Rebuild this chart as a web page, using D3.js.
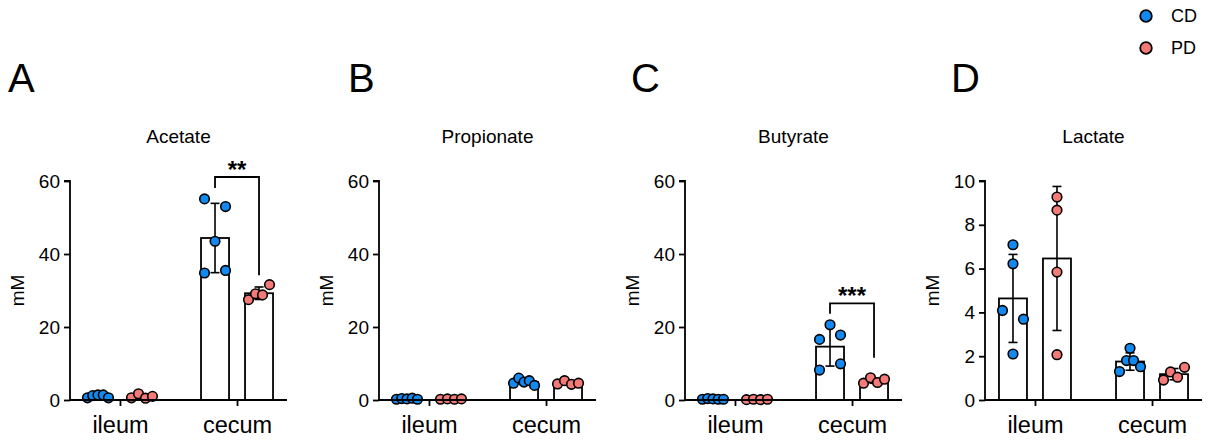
<!DOCTYPE html>
<html><head><meta charset="utf-8">
<script src="https://cdn.jsdelivr.net/npm/d3@7"></script>
<style>
body{margin:0;background:#fff}
svg{display:block}
text{font-family:"Liberation Sans",Arial,Helvetica,sans-serif;fill:#000}
</style>
</head><body>
<svg id="chart" width="1208" height="444"></svg>
<script>
// ---------- data ----------
const panelLetters = ["A","B","C","D"];
const panelTitles = ["Acetate","Propionate","Butyrate","Lactate"];
const categories = ["ileum","cecum"];
const groups = ["CD","PD"];
const yMaxima = [60,60,60,10];
const yTickValues = [[0,20,40,60],[0,20,40,60],[0,20,40,60],[0,2,4,6,8,10]];
const yLabel = "mM";

// per panel: [ileum CD, ileum PD, cecum CD, cecum PD]
const acetate    = [[0.6,1.2,1.4,1.4,0.6],[0.6,1.7,0.5,1.0],[55.1,53.0,43.5,34.8,35.5],[27.5,29.1,28.8,31.6]];
const propionate = [[0.2,0.4,0.3,0.5,0.2],[0.2,0.3,0.2,0.3],[4.6,6.0,4.9,5.3,4.0],[4.4,5.3,4.3,4.6]];
const butyrate   = [[0.2,0.4,0.3,0.2,0.2],[0.1,0.2,0.1,0.2],[16.6,20.6,17.8,8.2,9.9],[4.6,6.1,4.8,5.7]];
const lactate    = [[7.09,6.22,4.09,3.69,2.10],[9.27,8.67,5.84,2.07],[1.30,1.80,2.36,1.80,1.52],[0.91,1.28,1.04,1.49]];
const panelData = [acetate, propionate, butyrate, lactate];

// significance annotations (values in data units)
const sigPanels = [0, 2];
const sigLabels = ["**", "***"];
const sigCategory = ["cecum", "cecum"];
const sigBracketValue = [61.1, 26.5];
const sigLeftEnd = [58.1, 23.6];
const sigRightEnd = [34.2, 11.6];

const groupColors = {CD:"#1289ef", PD:"#f37a76"};

// ---------- layout ----------
const axisLefts = [70, 379, 685, 985];
const letterX = [8, 348, 631, 951];
const axisWidth = 217;
const yBottom = 400, yTop = 181;
const R = 4.8;

const svg = d3.select("#chart");

// symmetric cluster jitter in pixel space (order within a cluster follows data order)
function jitter(vals, y){
  const idx = vals.map((v,i)=>i).sort((a,b)=>vals[a]-vals[b]);
  const offs = new Array(vals.length).fill(0);
  let cluster = [idx[0]];
  const flush = c => {
    const n = c.length;
    if (n === 1) { offs[c[0]] = 0; return; }
    const span = 21;
    c.slice().sort((a,b)=>a-b).forEach((k,i)=>{ offs[k] = -span/2 + span*i/(n-1); });
  };
  for (let i=1;i<idx.length;i++){
    const prev = idx[i-1], cur = idx[i];
    if (Math.abs(y(vals[cur]) - y(vals[prev])) < 11) cluster.push(cur);
    else { flush(cluster); cluster = [cur]; }
  }
  flush(cluster);
  return offs;
}

panelData.forEach((data, p) => {
  const left = axisLefts[p];
  const g = svg.append("g");
  const y = d3.scaleLinear().domain([0, yMaxima[p]]).range([yBottom, yTop]);
  const x = d3.scalePoint().domain(categories).range([left, left + axisWidth]).padding(0.427);
  const xg = d3.scaleBand().domain(groups).range([-36, 36]).paddingInner(4/11);

  g.append("text").attr("x", letterX[p]).attr("y", 92).attr("font-size", 40).text(panelLetters[p]);
  g.append("text").attr("x", left + axisWidth/2).attr("y", 143).attr("text-anchor","middle")
    .attr("font-size", 19).text(panelTitles[p]);

  categories.forEach((cat, ci) => {
    groups.forEach((grp, gi) => {
      const vals = data[ci*2 + gi];
      const cx = x(cat) + xg(grp) + xg.bandwidth()/2;
      const m = d3.mean(vals), s = d3.deviation(vals);
      const bw = xg.bandwidth();
      g.append("rect").attr("x", cx - bw/2).attr("y", y(m)).attr("width", bw)
        .attr("height", yBottom - y(m)).attr("fill","#fff").attr("stroke","#000").attr("stroke-width",1.8);
      const eb = g.append("g").attr("stroke","#000").attr("stroke-width",1.6);
      eb.append("line").attr("x1",cx).attr("x2",cx).attr("y1",y(Math.max(0,m-s))).attr("y2",y(m+s));
      eb.append("line").attr("x1",cx-4.5).attr("x2",cx+4.5).attr("y1",y(m+s)).attr("y2",y(m+s));
      if (m - s > 0) eb.append("line").attr("x1",cx-4.5).attr("x2",cx+4.5).attr("y1",y(m-s)).attr("y2",y(m-s));
      const offs = jitter(vals, y);
      g.selectAll(null).data(vals).enter().append("circle")
        .attr("cx",(d,i)=>cx + offs[i]).attr("cy",d=>y(d)).attr("r",R)
        .attr("fill",groupColors[grp]).attr("stroke","#000").attr("stroke-width",1.6);
    });
  });

  const ya = d3.axisLeft(y).tickValues(yTickValues[p]).tickSize(6).tickPadding(4).tickFormat(d3.format("d"));
  const yAxisG = g.append("g").attr("transform",`translate(${left},0)`).call(ya);
  yAxisG.select(".domain").attr("stroke-width",1.8).attr("d",`M-6,${yTop}H0V${yBottom}`);
  yAxisG.selectAll(".tick line").attr("stroke-width",1.8);
  yAxisG.selectAll(".tick text").attr("font-size",19).attr("font-family",'"Liberation Sans",Arial,sans-serif').attr("fill","#000");

  const xa = d3.axisBottom(x).tickSize(6).tickPadding(10);
  const xAxisG = g.append("g").attr("transform",`translate(0,${yBottom})`).call(xa);
  xAxisG.select(".domain").attr("stroke-width",1.8).attr("d",`M${left},0H${left+axisWidth}`);
  xAxisG.selectAll(".tick line").attr("stroke-width",1.8);
  xAxisG.selectAll(".tick text").attr("font-size",23.5).attr("font-family",'"Liberation Sans",Arial,sans-serif').attr("fill","#000");

  g.append("text").attr("transform",`translate(${left-53},${(yTop+yBottom)/2}) rotate(-90)`)
    .attr("text-anchor","middle").attr("dominant-baseline","central").attr("font-size",19).text(yLabel);

  sigPanels.forEach((sp, k) => {
    if (sp !== p) return;
    const xl = x(sigCategory[k]) + xg("CD") + xg.bandwidth()/2;
    const xr = x(sigCategory[k]) + xg("PD") + xg.bandwidth()/2;
    const yb = y(sigBracketValue[k]);
    g.append("path").attr("fill","none").attr("stroke","#000").attr("stroke-width",1.8)
      .attr("d",`M${xl},${y(sigLeftEnd[k])}V${yb}H${xr}V${y(sigRightEnd[k])}`);
    g.append("text").attr("x",(xl+xr)/2).attr("y",yb+1).attr("text-anchor","middle")
      .attr("font-size",24).attr("font-weight","bold").attr("letter-spacing",0).text(sigLabels[k]);
  });
});

// legend
const leg = svg.append("g");
groups.forEach((grp, i) => {
  const cy = 16 + i*32;
  leg.append("circle").attr("cx",1146).attr("cy",cy).attr("r",5.8)
    .attr("fill",groupColors[grp]).attr("stroke","#000").attr("stroke-width",1.8);
  leg.append("text").attr("x",1171).attr("y",cy).attr("dominant-baseline","central")
    .attr("font-size",18).text(grp);
});
</script>
</body></html>
